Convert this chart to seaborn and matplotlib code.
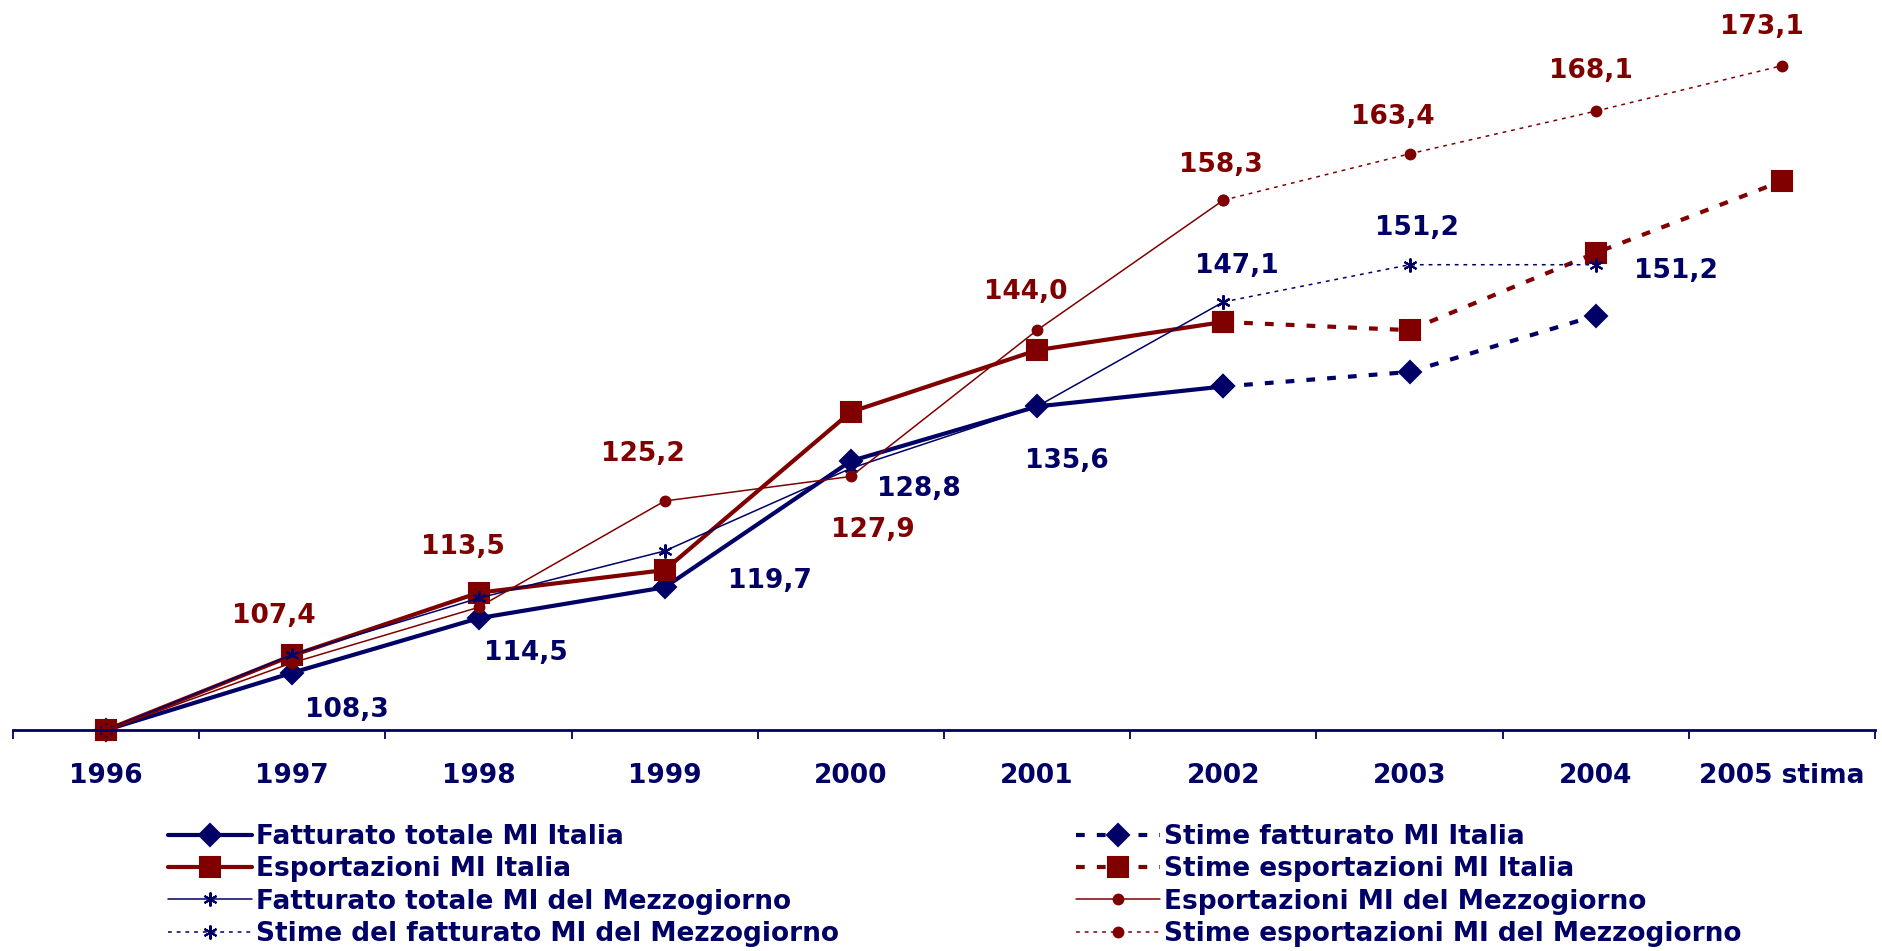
import numpy as np
import pandas as pd
import seaborn as sns
import matplotlib.pyplot as plt

# Categorie (anni)
anni = ["1996", "1997", "1998", "1999", "2000", "2001", "2002", "2003", "2004", "2005 stima"]

# Serie consolidate 1996-2002
fatturato_italia = [100.0, 106.3, 112.3, 115.7, 129.6, 135.6, 137.8]
esportazioni_italia = [100.0, 108.2, 115.1, 117.6, 135.0, 141.8, 144.9]
fatturato_mezzogiorno = [100.0, 108.3, 114.5, 119.7, 128.8, 135.6, 147.1]
esportazioni_mezzogiorno = [100.0, 107.4, 113.5, 125.2, 127.9, 144.0, 158.3]

# Stime dal 2002 in poi
stime_fatturato_italia = [137.8, 139.4, 145.6]
stime_esportazioni_italia = [144.9, 144.0, 152.5, 160.4]
stime_fatturato_mezzogiorno = [147.1, 151.2, 151.2]
stime_esportazioni_mezzogiorno = [158.3, 163.4, 168.1, 173.1]

BLU = "#000066"
ROSSO = "#800000"

sns.set_style("white")
plt.rcParams["font.family"] = ["DejaVu Sans"]
plt.rcParams["font.weight"] = "bold"

fig = plt.figure(figsize=(18.82, 9.51), dpi=100)
ax = fig.add_axes([13 / 1882, 1 - 730 / 951, 1862 / 1882, 727 / 951])

pos = np.arange(len(anni))


def serie(valori, inizio):
    return pos[inizio:inizio + len(valori)], valori


thick = 3.0
thin = 1.1
tratteggio = (0, (2.1, 2.9))
puntini = (0, (2.5, 3.2))
asterisco = (6, 2, 0)

# (valori, anno iniziale, colore, spessore, stile, marker, dimensione, etichetta)
linee = [
    (fatturato_italia, 0, BLU, thick, "-", "D", 11.5, "Fatturato totale MI Italia"),
    (stime_fatturato_italia, 6, BLU, thick, tratteggio, "D", 11.5, "Stime fatturato MI Italia"),
    (esportazioni_italia, 0, ROSSO, thick, "-", "s", 14, "Esportazioni MI Italia"),
    (stime_esportazioni_italia, 6, ROSSO, thick, tratteggio, "s", 14, "Stime esportazioni MI Italia"),
    (fatturato_mezzogiorno, 0, BLU, thin, "-", asterisco, 10, "Fatturato totale MI del Mezzogiorno"),
    (stime_fatturato_mezzogiorno, 6, BLU, thin, puntini, asterisco, 10, "Stime del fatturato MI del Mezzogiorno"),
    (esportazioni_mezzogiorno, 0, ROSSO, thin, "-", "o", 7, "Esportazioni MI del Mezzogiorno"),
    (stime_esportazioni_mezzogiorno, 6, ROSSO, thin, puntini, "o", 7, "Stime esportazioni MI del Mezzogiorno"),
]

for valori, inizio, colore, lw, ls, mk, ms, nome in linee:
    x, y = serie(valori, inizio)
    sns.lineplot(x=x, y=y, ax=ax, color=colore, linewidth=lw, linestyle=ls,
                 marker=mk, markersize=ms, markerfacecolor=colore,
                 markeredgecolor=colore, markeredgewidth=1.5,
                 label=nome, legend=False, clip_on=False)

ax.set_xlim(-0.5, len(anni) - 0.5)
ax.set_ylim(100, 180)
ax.set_xlabel("")
ax.set_ylabel("")
ax.set_yticks([])
ax.set_xticks(pos)
ax.set_xticklabels(anni, fontsize=19, fontweight="bold", color=BLU)
ax.set_xticks(np.arange(-0.5, len(anni)), minor=True)
ax.tick_params(axis="x", which="major", bottom=True, length=0, pad=24)
ax.tick_params(axis="x", which="minor", bottom=True, length=6.5, width=1.3,
               color=BLU, direction="out")
for lato in ["left", "right", "top"]:
    ax.spines[lato].set_visible(False)
ax.spines["bottom"].set_color(BLU)
ax.spines["bottom"].set_linewidth(2)


def etichetta(v):
    return f"{v:.1f}".replace(".", ",")


# Etichette fatturato Mezzogiorno (scostamenti in pixel)
fatt_mezz_all = fatturato_mezzogiorno + stime_fatturato_mezzogiorno[1:]
off_blu = [(55, 55), (47, 55), (105, 30), (68, 21), (30, 55), (14, -36), (7, -37), (80, 6)]
for i, (dx, dy) in enumerate(off_blu, start=1):
    ax.annotate(etichetta(fatt_mezz_all[i]), (pos[i], fatt_mezz_all[i]), xytext=(dx, -dy),
                textcoords="offset pixels", ha="center", va="center",
                fontsize=19, fontweight="bold", color=BLU, annotation_clip=False)

# Etichette esportazioni Mezzogiorno
esp_mezz_all = esportazioni_mezzogiorno + stime_esportazioni_mezzogiorno[1:]
off_rosso = [(-18, -47), (-16, -60), (-22, -47), (22, 54), (-11, -38), (-2, -35), (-17, -37), (-5, -40), (-20, -39)]
for i, (dx, dy) in enumerate(off_rosso, start=1):
    ax.annotate(etichetta(esp_mezz_all[i]), (pos[i], esp_mezz_all[i]), xytext=(dx, -dy),
                textcoords="offset pixels", ha="center", va="center",
                fontsize=19, fontweight="bold", color=ROSSO, annotation_clip=False)

# Legenda su due colonne
handles, labels = ax.get_legend_handles_labels()
mappa = dict(zip(labels, handles))
col_sx = ["Fatturato totale MI Italia", "Esportazioni MI Italia",
          "Fatturato totale MI del Mezzogiorno", "Stime del fatturato MI del Mezzogiorno"]
col_dx = ["Stime fatturato MI Italia", "Stime esportazioni MI Italia",
          "Esportazioni MI del Mezzogiorno", "Stime esportazioni MI del Mezzogiorno"]
for colonna, x0 in [(col_sx, 168), (col_dx, 1076)]:
    fig.legend([mappa[c] for c in colonna], colonna, loc="upper left",
               bbox_to_anchor=(x0 / 1882, 1 - 824 / 951), frameon=False,
               borderpad=0, borderaxespad=0, handlelength=3.2, handletextpad=0.15,
               labelspacing=0.24, prop={"weight": "bold", "size": 19}, labelcolor=BLU)

fig.savefig("out.png", dpi=100)
